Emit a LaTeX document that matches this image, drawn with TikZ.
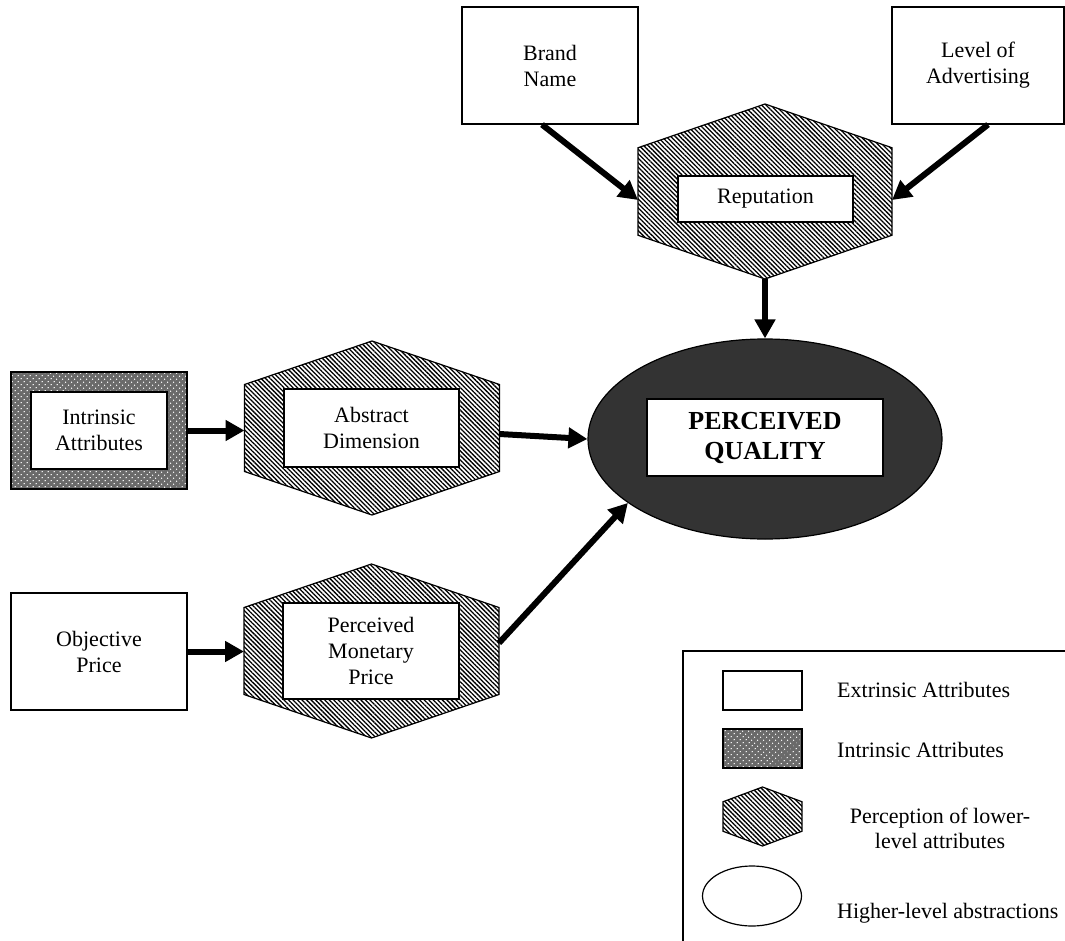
\documentclass[tikz,border=0pt]{standalone}
\usepackage{fontspec}
\setmainfont{Liberation Serif}
\usetikzlibrary{arrows.meta,patterns.meta,shapes.geometric,calc}

\definecolor{dotgray}{HTML}{6A6A6A}
\definecolor{darkfill}{HTML}{333333}

\tikzset{
  txt/.style={font=\fontsize{22}{26}\selectfont, align=center, inner sep=0pt},
  frame/.style={draw, line width=1.2pt},
  whitebox/.style={txt, frame, fill=white},
  dotbox/.style={txt, frame, preaction={fill=dotgray},
    pattern={Dots[radius=0.75pt, distance=4pt, angle=45]}, pattern color=white},
  hatch/.style={line width=1.2pt, draw,
    pattern={Lines[angle=-45, distance=3.2pt, line width=1.3pt]}, pattern color=black},
  flow/.style={line width=6pt, -{Triangle[length=19pt, width=20pt]}},
}

% hatched hexagon: name, centre x, centre y, half width, half height
\newcommand\perchex[5]{%
  \draw[hatch] ({#2},{#3-#5}) coordinate (#1-n)
    -- ({#2+#4},{#3-#5/2}) -- ({#2+#4},{#3+#5/2})
    -- ({#2},{#3+#5}) coordinate (#1-s)
    -- ({#2-#4},{#3+#5/2}) -- ({#2-#4},{#3-#5/2}) -- cycle;
  \coordinate (#1-w) at ({#2-#4},{#3});
  \coordinate (#1-e) at ({#2+#4},{#3});%
}

\begin{document}
\begin{tikzpicture}[x=1pt, y=-1pt]
\useasboundingbox (0,0) rectangle (1065,941);

% extrinsic cues at the top
\node[whitebox, minimum width=176pt, minimum height=117pt] (brand) at (550,65.5) {Brand\\Name};
\node[whitebox, minimum width=172pt, minimum height=117pt] (advert) at (978,65.5) {Level of\\Advertising};

% reputation
\perchex{rep}{765}{191.5}{127}{87.5}
\node[whitebox, minimum width=175pt, minimum height=46pt] (reptext) at (765.5,199) {Reputation};

% perceived quality
\node[ellipse, frame, fill=darkfill, minimum width=354pt, minimum height=200pt] (pq) at (765,439) {};
\node[whitebox, minimum width=236pt, minimum height=77pt, font=\fontsize{26}{30}\selectfont\bfseries] (pqtext) at (765,437.5) {PERCEIVED\\QUALITY};

% intrinsic attributes and abstract dimension
\node[dotbox, minimum width=176pt, minimum height=117pt] (intr) at (99,430.5) {};
\node[whitebox, minimum width=136pt, minimum height=77pt] (intrtext) at (99,430.5) {Intrinsic\\Attributes};
\perchex{abs}{372}{428}{127.5}{87}
\node[whitebox, minimum width=175pt, minimum height=78pt] (abstext) at (371.5,428) {Abstract\\Dimension};

% objective and perceived monetary price
\node[whitebox, minimum width=176pt, minimum height=117pt] (obj) at (99,651.5) {Objective\\Price};
\perchex{pm}{371.5}{651}{127.5}{87}
\node[whitebox, minimum width=176pt, minimum height=96pt] (pmtext) at (371,651) {Perceived\\Monetary\\Price};

% connectors
\draw[flow] ($(brand.south)+(-8,0)$) -- ($(rep-w)+(0,8.5)$);
\draw[flow] ($(advert.south)+(10,0)$) -- ($(rep-e)+(0,8.5)$);
\draw[flow] (rep-s) -- (pq.north);
\draw[flow] (intr.east) -- (intr.east -| abs-w);
\draw[flow] ($(abs-e)+(0,6)$) -- (pq.west);
\draw[flow] (obj.east) -- (obj.east -| pm-w);
\draw[flow] ($(pm-e)+(0,-8)$) -- (pq.205);

% legend
\draw[line width=1.2pt] (1065,651) -- (683,651) -- (683,941);
\node[whitebox, minimum width=79pt, minimum height=39pt] (lgext) at (762.5,690.5) {};
\node[txt, anchor=base west] (lgexttext) at (837,697) {Extrinsic Attributes};
\node[dotbox, minimum width=79pt, minimum height=39pt] (lgint) at (762.5,748.5) {};
\node[txt, anchor=base west] (lginttext) at (837,757) {Intrinsic Attributes};
\perchex{lghex}{762.5}{816.5}{39.5}{29.5}
\node[txt, font=\fontsize{22}{25}\selectfont] (lghextext) at (940,828) {Perception of lower-\\level attributes};
\node[ellipse, frame, minimum width=99pt, minimum height=60pt] (lgell) at (752,896) {};
\node[txt, anchor=base west] (lgelltext) at (837,918) {Higher-level abstractions};
\end{tikzpicture}
\end{document}
